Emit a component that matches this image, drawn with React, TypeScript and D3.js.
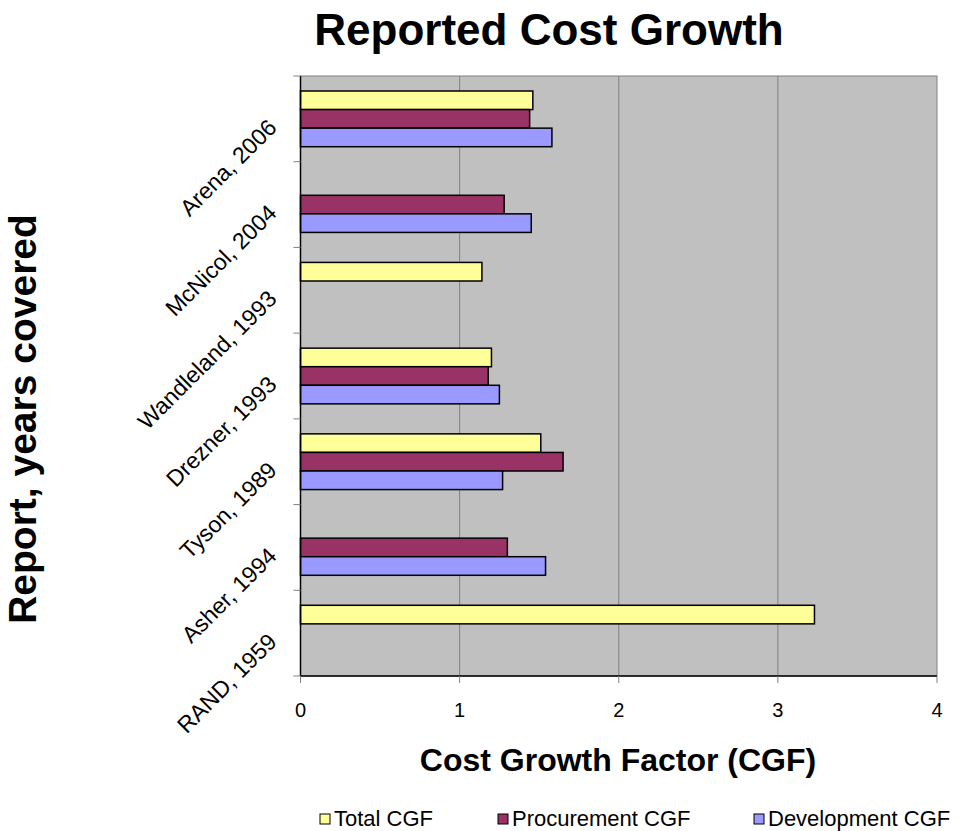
import React from "react";
import * as d3 from "d3";

const categories = [
  "Arena, 2006",
  "McNicol, 2004",
  "Wandleland, 1993",
  "Drezner, 1993",
  "Tyson, 1989",
  "Asher, 1994",
  "RAND, 1959",
];
const seriesNames = ["Total CGF", "Procurement CGF", "Development CGF"];
const totalCGF: (number | null)[] = [1.46, null, 1.14, 1.2, 1.51, null, 3.23];
const procurementCGF: (number | null)[] = [1.44, 1.28, null, 1.18, 1.65, 1.3, null];
const developmentCGF: (number | null)[] = [1.58, 1.45, null, 1.25, 1.27, 1.54, null];
const xTicks = [0, 1, 2, 3, 4];
const seriesColors = ["#FFFF99", "#993366", "#9999FF"];

const W = 968;
const H = 831;
const M = { left: 300.5, right: 937, top: 76, bottom: 676 };
const FONT = "Arial, 'Liberation Sans', Helvetica, sans-serif";

export default function App() {
  const x = d3.scaleLinear().domain([0, 4]).range([M.left, M.right]);
  const y = d3.scaleBand<string>().domain(categories).range([M.top, M.bottom]).padding(0);
  const bw = y.bandwidth();
  const sub = d3
    .scaleBand<string>()
    .domain(seriesNames)
    .range([bw * 0.175, bw * 0.825])
    .padding(0);
  const allSeries = [totalCGF, procurementCGF, developmentCGF];

  const boundaries = categories.map((c) => y(c) as number).concat([M.bottom]);

  const legendItems = [
    { name: seriesNames[0], x: 320 },
    { name: seriesNames[1], x: 498 },
    { name: seriesNames[2], x: 754 },
  ];

  return (
    <svg width={W} height={H} style={{ display: "block", position: "absolute", left: 0, top: 0 }} fontFamily={FONT}>
      <rect x={0} y={0} width={W} height={H} fill="#fff" />
      <text x={549} y={45} textAnchor="middle" fontSize={44} fontWeight="bold" fill="#000">
        Reported Cost Growth
      </text>
      <rect x={M.left} y={M.top} width={M.right - M.left} height={M.bottom - M.top} fill="#C0C0C0" stroke="#808080" strokeWidth={1} />
      {xTicks.slice(1, -1).map((t) => (
        <line key={t} x1={x(t)} x2={x(t)} y1={M.top} y2={M.bottom} stroke="#808080" strokeWidth={1} />
      ))}
      {categories.map((c, i) => (
        <g key={c} transform={`translate(0,${y(c)})`}>
          {allSeries.map((s, k) => {
            const v = s[i];
            if (v == null) return null;
            return (
              <rect
                key={k}
                x={x(0)}
                y={sub(seriesNames[k]) as number}
                width={x(v) - x(0)}
                height={sub.bandwidth()}
                fill={seriesColors[k]}
                stroke="#000"
                strokeWidth={1.5}
              />
            );
          })}
        </g>
      ))}
      <line x1={M.left} x2={M.left} y1={M.top} y2={M.bottom} stroke="#000" strokeWidth={1.5} />
      <line x1={M.left} x2={M.right} y1={M.bottom} y2={M.bottom} stroke="#000" strokeWidth={1.5} />
      {boundaries.map((b, i) => (
        <line key={i} x1={M.left - 7} x2={M.left} y1={b} y2={b} stroke="#808080" strokeWidth={1} />
      ))}
      {xTicks.map((t) => (
        <g key={t}>
          <line x1={x(t)} x2={x(t)} y1={M.bottom} y2={M.bottom + 7} stroke="#808080" strokeWidth={1} />
          <text x={x(t)} y={717} textAnchor="middle" fontSize={20} fill="#000">
            {t}
          </text>
        </g>
      ))}
      {categories.map((c) => {
        const cy = (y(c) as number) + bw / 2 + 10;
        return (
          <text
            key={c}
            transform={`translate(278,${cy}) rotate(-45)`}
            textAnchor="end"
            fontSize={23}
            fill="#000"
          >
            {c}
          </text>
        );
      })}
      <text x={618} y={771} textAnchor="middle" fontSize={32} fontWeight="bold" fill="#000">
        Cost Growth Factor (CGF)
      </text>
      <text transform={`translate(36,419) rotate(-90)`} textAnchor="middle" fontSize={39} fontWeight="bold" fill="#000">
        Report, years covered
      </text>
      {legendItems.map((it, k) => (
        <g key={it.name}>
          <rect x={it.x} y={814} width={10} height={10} fill={seriesColors[k]} stroke="#000" strokeWidth={1} />
          <text x={it.x + 14} y={826} fontSize={22} fill="#000">
            {it.name}
          </text>
        </g>
      ))}
    </svg>
  );
}
